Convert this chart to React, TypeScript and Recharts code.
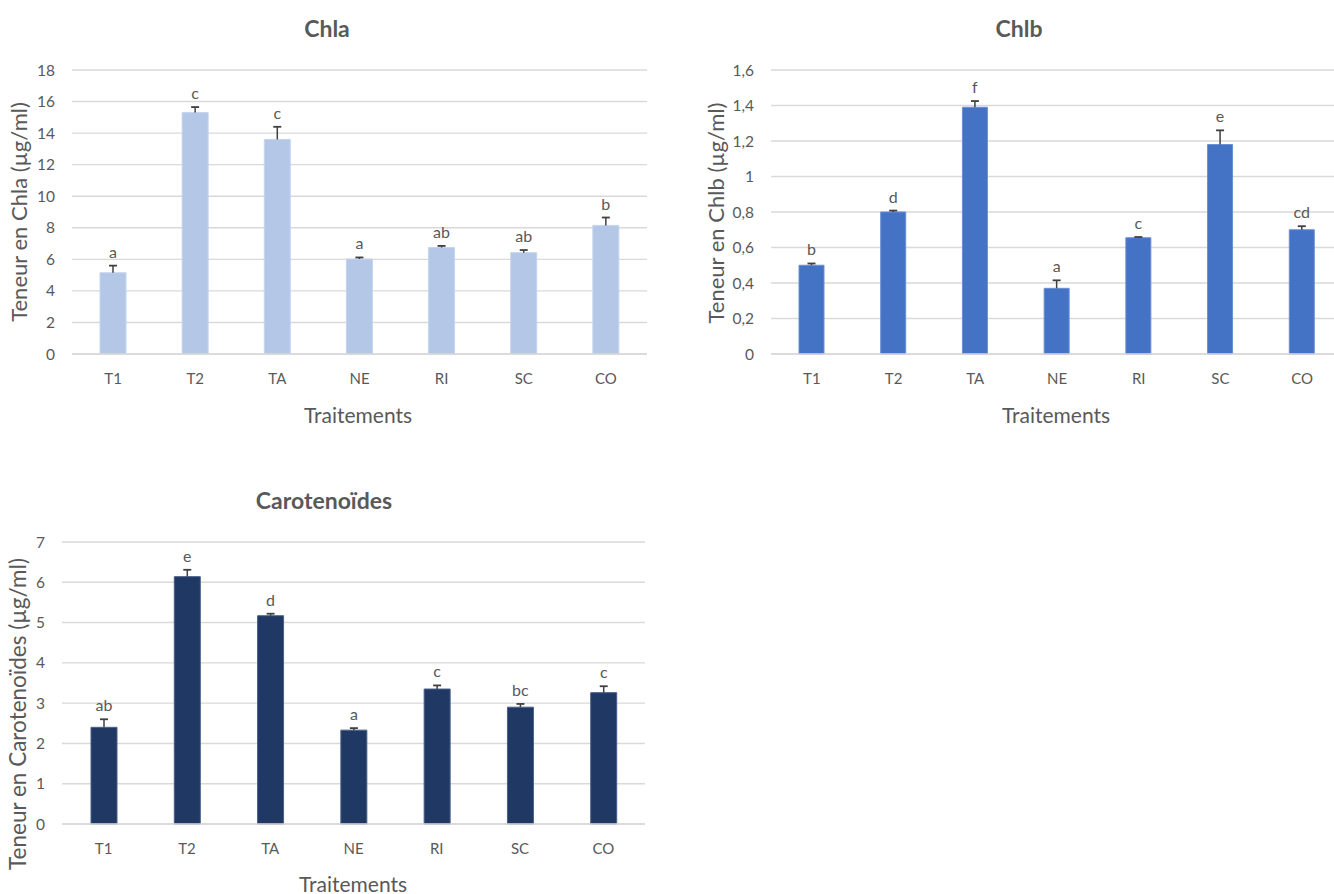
import React from "react";
import { BarChart, Bar, XAxis, YAxis, CartesianGrid, LabelList } from "recharts";

const categories = ["T1", "T2", "TA", "NE", "RI", "SC", "CO"];

const chlaValues = [5.15, 15.3, 13.6, 6.02, 6.75, 6.42, 8.15];
const chlaErrors = [0.45, 0.35, 0.8, 0.1, 0.1, 0.17, 0.5];
const chlaLetters = ["a", "c", "c", "a", "ab", "ab", "b"];
const chlaTicks = [0, 2, 4, 6, 8, 10, 12, 14, 16, 18];

const chlbValues = [0.5, 0.8, 1.39, 0.37, 0.655, 1.18, 0.7];
const chlbErrors = [0.01, 0.008, 0.035, 0.045, 0.004, 0.08, 0.02];
const chlbLetters = ["b", "d", "f", "a", "c", "e", "cd"];
const chlbTicks = [0, 0.2, 0.4, 0.6, 0.8, 1, 1.2, 1.4, 1.6];

const carValues = [2.4, 6.14, 5.17, 2.33, 3.35, 2.9, 3.26];
const carErrors = [0.2, 0.17, 0.05, 0.05, 0.09, 0.08, 0.16];
const carLetters = ["ab", "e", "d", "a", "c", "bc", "c"];
const carTicks = [0, 1, 2, 3, 4, 5, 6, 7];

const FONT = "Lato, 'Open Sans', 'DejaVu Sans', sans-serif";
const TEXT = "#595959";
const GRID = "#D9D9D9";

function buildRows(values: number[], errors: number[], letters: string[]) {
  return categories.map((c, i) => ({ cat: c, value: values[i], err: errors[i], letter: letters[i] }));
}

const ErrorShape = (props: any) => {
  const { x, y, width, height } = props;
  const cx = x + width / 2;
  return (
    <g>
      <line x1={cx} x2={cx} y1={y + height} y2={y} stroke="#404040" strokeWidth={1.5} />
      <line x1={cx - 4} x2={cx + 4} y1={y} y2={y} stroke="#404040" strokeWidth={1.8} />
    </g>
  );
};

type PanelProps = {
  left: number;
  top: number;
  width: number;
  height: number;
  margin: { top: number; right: number; bottom: number; left: number };
  yWidth: number;
  rows: any[];
  ticks: number[];
  domain: [number, number];
  fill: string;
  stroke: string;
  barSize: number;
  comma?: boolean;
};

function Panel(p: PanelProps) {
  return (
    <div style={{ position: "absolute", left: p.left, top: p.top }}>
      <BarChart width={p.width} height={p.height} data={p.rows} margin={p.margin}>
        <CartesianGrid vertical={false} stroke={GRID} strokeWidth={1.4} />
        <XAxis
          dataKey="cat"
          height={30}
          interval={0}
          tickLine={false}
          axisLine={{ stroke: GRID, strokeWidth: 1.4 }}
          tickMargin={13}
          tick={{ fill: TEXT, fontSize: 15, fontFamily: FONT }}
        />
        <YAxis
          width={p.yWidth}
          domain={p.domain}
          ticks={p.ticks}
          interval={0}
          axisLine={false}
          tickLine={false}
          tickMargin={11}
          tick={{ fill: TEXT, fontSize: 15.5, fontFamily: FONT }}
          tickFormatter={(v: number) => (p.comma ? String(v).replace(".", ",") : String(v))}
        />
        <Bar
          dataKey="value"
          stackId="s"
          fill={p.fill}
          stroke={p.stroke}
          strokeWidth={1}
          barSize={p.barSize}
          isAnimationActive={false}
        />
        <Bar
          dataKey="err"
          stackId="s"
          barSize={p.barSize}
          shape={ErrorShape}
          isAnimationActive={false}
        >
          <LabelList dataKey="letter" position="top" offset={8} fill={TEXT} fontSize={16} fontFamily={FONT} />
        </Bar>
      </BarChart>
    </div>
  );
}

const Txt = (props: { x: number; y: number; size: number; bold?: boolean; rotate?: boolean; children: React.ReactNode }) => (
  <div
    style={{
      position: "absolute",
      left: props.x,
      top: props.y,
      transform: `translate(-50%, -50%)${props.rotate ? " rotate(-90deg)" : ""}`,
      whiteSpace: "nowrap",
      lineHeight: 1,
      fontSize: props.size,
      fontWeight: props.bold ? 700 : 400,
      color: TEXT,
      fontFamily: FONT,
    }}
  >
    {props.children}
  </div>
);

export default function App() {
  const chla = buildRows(chlaValues, chlaErrors, chlaLetters);
  const chlb = buildRows(chlbValues, chlbErrors, chlbLetters);
  const car = buildRows(carValues, carErrors, carLetters);
  return (
    <div
      style={{
        position: "fixed",
        left: 0,
        top: 0,
        width: 1334,
        height: 894,
        overflow: "hidden",
        background: "#ffffff",
        fontFamily: FONT,
      }}
    >
      <Panel
        left={0}
        top={0}
        width={660}
        height={430}
        margin={{ top: 70, right: 13, bottom: 46, left: 0 }}
        yWidth={72}
        rows={chla}
        ticks={chlaTicks}
        domain={[0, 18]}
        fill="#B4C7E7"
        stroke="#C5D4EE"
        barSize={26}
      />
      <Panel
        left={660}
        top={0}
        width={700}
        height={430}
        margin={{ top: 70, right: 17, bottom: 46, left: 0 }}
        yWidth={111}
        rows={chlb}
        ticks={chlbTicks}
        domain={[0, 1.6]}
        fill="#4472C4"
        stroke="#6A8FD3"
        barSize={25}
        comma
      />
      <Panel
        left={0}
        top={470}
        width={660}
        height={424}
        margin={{ top: 72, right: 15, bottom: 40, left: 0 }}
        yWidth={62}
        rows={car}
        ticks={carTicks}
        domain={[0, 7]}
        fill="#203864"
        stroke="#4A5F88"
        barSize={26}
      />

      <Txt x={327} y={28} size={23} bold>Chla</Txt>
      <Txt x={1019} y={28} size={23} bold>Chlb</Txt>
      <Txt x={324} y={500} size={23} bold>Carotenoïdes</Txt>

      <Txt x={358} y={414} size={21}>Traitements</Txt>
      <Txt x={1056} y={414} size={21}>Traitements</Txt>
      <Txt x={353} y={883} size={21}>Traitements</Txt>

      <Txt x={19} y={212} size={22} rotate>Teneur en Chla (µg/ml)</Txt>
      <Txt x={716} y={213} size={22} rotate>Teneur en Chlb (µg/ml)</Txt>
      <Txt x={18} y={714} size={22.5} rotate>Teneur en Carotenoïdes (µg/ml)</Txt>
    </div>
  );
}
